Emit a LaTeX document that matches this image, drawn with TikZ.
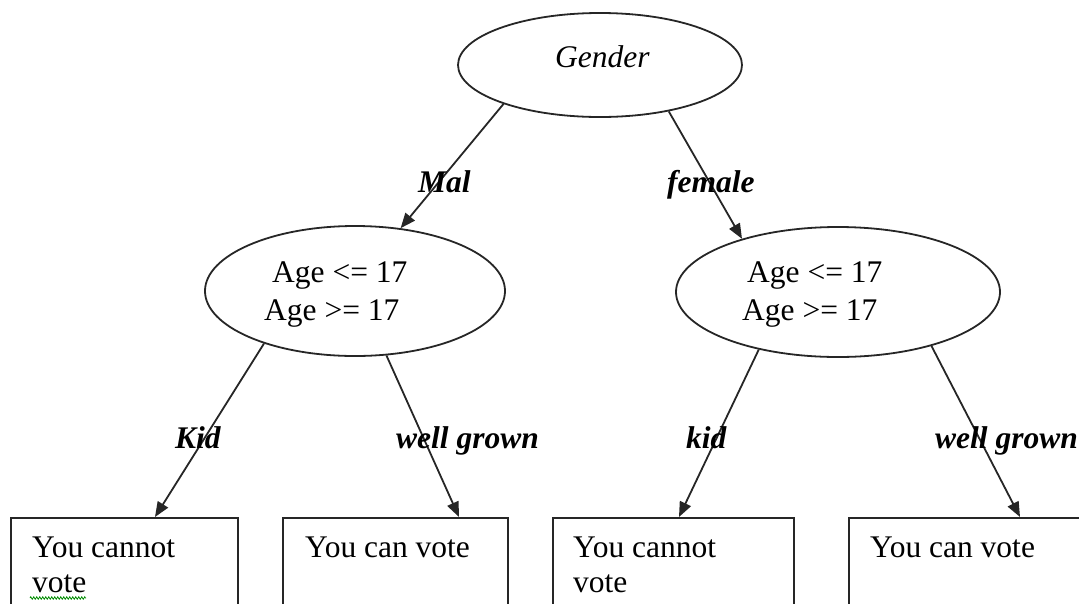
\documentclass[tikz,border=0pt]{standalone}
\usepackage{fontspec}
\setmainfont{Liberation Serif}
\usetikzlibrary{shapes.geometric,arrows.meta,calc,decorations.pathmorphing}
\begin{document}
\begin{tikzpicture}[x=1pt,y=-1pt,
  every node/.style={font=\fontsize{31.5}{35}\selectfont},
  oval/.style={draw=black!85, ellipse, line width=1.8pt, inner sep=0pt},
  box/.style={draw=black!85, rectangle, line width=1.8pt, inner sep=0pt, anchor=north west, minimum height=130pt},
  txt/.style={inner sep=0pt, anchor=base west},
  lbl/.style={inner sep=0pt, anchor=base west, font=\fontsize{31.5}{35}\selectfont\bfseries\itshape},
  link/.style={draw=black!85, line width=1.8pt, -{Triangle[length=15pt,width=12pt]}}]
\clip (0,0) rectangle (1079,603);

% decision nodes
\node[oval, minimum width=284pt, minimum height=104pt] (g) at (600,65) {};
\node[oval, minimum width=300pt, minimum height=130pt] (l) at (355,291) {};
\node[oval, minimum width=324pt, minimum height=130pt] (r) at (838,292) {};

\node[txt, font=\fontsize{31.5}{35}\selectfont\itshape] (gt) at (555,67) {Gender};
\node[txt, font=\fontsize{31.5}{38}\selectfont] (lt) at (264,282)
  {\begin{tabular}[t]{@{}l@{}}\hspace{8pt}Age <= 17\\Age >= 17\end{tabular}};
\node[txt, font=\fontsize{31.5}{38}\selectfont] (rt) at (742,282)
  {\begin{tabular}[t]{@{}l@{}}\hspace{5pt}Age <= 17\\Age >= 17\end{tabular}};

% outcome boxes
\node[box, minimum width=227pt] (b1) at (10,517) {};
\node[box, minimum width=225pt] (b2) at (282,517) {};
\node[box, minimum width=241pt] (b3) at (552,517) {};
\node[box, minimum width=260pt] (b4) at (848,517) {};

\node[txt] (t1) at (32,557) {\begin{tabular}[t]{@{}l@{}}You cannot\\vote\end{tabular}};
\node[txt] (t2) at (305,557) {You can vote};
\node[txt] (t3) at (573,557) {\begin{tabular}[t]{@{}l@{}}You cannot\\vote\end{tabular}};
\node[txt] (t4) at (870,557) {You can vote};

% spell-check underline
\draw[green!55!black, line width=0.8pt, decorate,
  decoration={zigzag, segment length=3pt, amplitude=1.2pt}] (30,598) -- (86,598);

% connectors
\draw[link] (g.202.3) -- (l.54.9);
\draw[link] (g.326.7) -- (r.151.6);
\draw[link] (l.210.4) -- ($(b1.north west)+(145,0)$);
\draw[link] (l.296.6) -- ($(b2.north west)+(177,0)$);
\draw[link] (r.216.2) -- ($(b3.north west)+(127,0)$);
\draw[link] (r.330.6) -- ($(b4.north west)+(172,0)$);

% branch labels
\node[lbl] (m) at (418,192) {Mal};
\node[lbl] (f) at (667,192) {female};
\node[lbl] (k1) at (175,448) {Kid};
\node[lbl] (w1) at (396,448) {well grown};
\node[lbl] (k2) at (686,448) {kid};
\node[lbl] (w2) at (935,448) {well grown};
\end{tikzpicture}
\end{document}
